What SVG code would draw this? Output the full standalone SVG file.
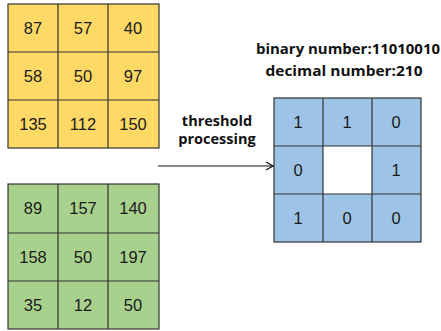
<svg xmlns="http://www.w3.org/2000/svg" width="441" height="331" viewBox="0 0 441 331">
<style>
.g{stroke:#333;stroke-width:1.2}
.n{font-family:"Liberation Sans",Arial,sans-serif;font-size:16.5px;fill:#1a1a1a;text-anchor:middle}
.b{font-family:"Open Sans","Liberation Sans",sans-serif;font-weight:bold;fill:#111;text-anchor:middle}
</style>
<defs>
<marker id="ah" markerWidth="10" markerHeight="10" refX="8" refY="5" orient="auto" markerUnits="userSpaceOnUse">
<path d="M1,1 L8,5 L1,9" fill="none" stroke="#111" stroke-width="1.3"/>
</marker>
</defs>
<rect width="441" height="331" fill="#fff"/>
<g id="yellow">
<rect x="8" y="4" width="151" height="144" fill="#FFD966" class="g"/>
<path d="M58,4V148M108,4V148M8,52H159M8,100H159" class="g" fill="none"/>
<text class="n" x="33" y="34">87</text><text class="n" x="83" y="34">57</text><text class="n" x="133" y="34">40</text>
<text class="n" x="33" y="82">58</text><text class="n" x="83" y="82">50</text><text class="n" x="133" y="82">97</text>
<text class="n" x="33" y="130">135</text><text class="n" x="83" y="130">112</text><text class="n" x="133" y="130">150</text>
</g>
<g id="green">
<rect x="8" y="184" width="151" height="145" fill="#A9D18E" class="g"/>
<path d="M58,184V329M108,184V329M8,233H159M8,281H159" class="g" fill="none"/>
<text class="n" x="33" y="214">89</text><text class="n" x="83" y="214">157</text><text class="n" x="133" y="214">140</text>
<text class="n" x="33" y="263">158</text><text class="n" x="83" y="263">50</text><text class="n" x="133" y="263">197</text>
<text class="n" x="33" y="311">35</text><text class="n" x="83" y="311">12</text><text class="n" x="133" y="311">50</text>
</g>
<g id="blue">
<rect x="274" y="98" width="147" height="144" fill="#9DC3E6" class="g"/>
<rect x="323" y="146" width="49" height="48" fill="#fff"/>
<path d="M323,98V242M372,98V242M274,146H421M274,194H421" class="g" fill="none"/>
<text class="n" x="298" y="128">1</text><text class="n" x="347" y="128">1</text><text class="n" x="396" y="128">0</text>
<text class="n" x="298" y="176">0</text><text class="n" x="396" y="176">1</text>
<text class="n" x="298" y="224">1</text><text class="n" x="347" y="224">0</text><text class="n" x="396" y="224">0</text>
</g>
<g id="labels">
<text class="b" x="348" y="54" font-size="15" textLength="184" lengthAdjust="spacingAndGlyphs">binary number:11010010</text>
<text class="b" x="344" y="76" font-size="15" textLength="157" lengthAdjust="spacingAndGlyphs">decimal number:210</text>
<text class="b" x="217" y="126" font-size="14.5">threshold</text>
<text class="b" x="217" y="144" font-size="14.5">processing</text>
</g>
<g id="connectors">
<line x1="158" y1="166" x2="273" y2="166" stroke="#111" stroke-width="1.2" marker-end="url(#ah)"/>
</g>
</svg>
